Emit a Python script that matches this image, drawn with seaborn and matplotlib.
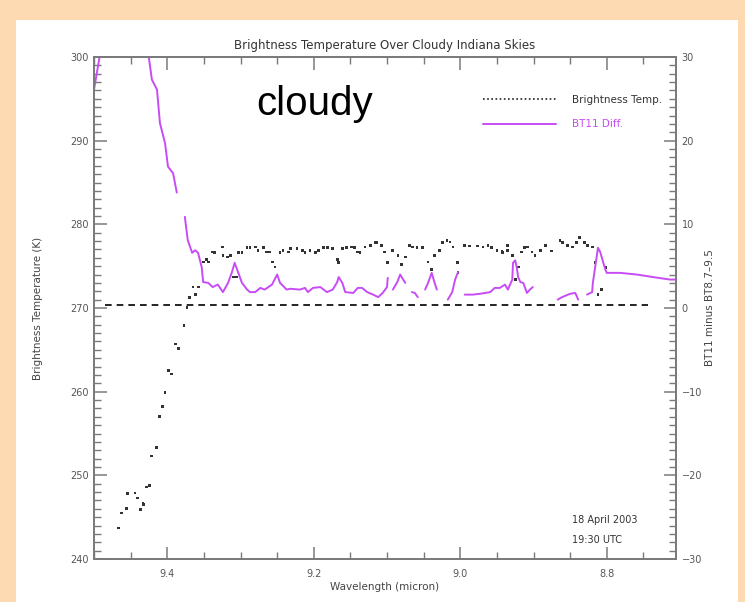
import numpy as np
import pandas as pd
import matplotlib
matplotlib.use("Agg")
import matplotlib.pyplot as plt
from matplotlib.patches import Rectangle
from matplotlib.lines import Line2D
from matplotlib.ticker import MultipleLocator, FixedLocator
import seaborn as sns

nan = np.nan

# ---------------- data ----------------
title = "Brightness Temperature Over Cloudy Indiana Skies"
x_label = "Wavelength (micron)"
y_label_left = "Brightness Temperature (K)"
y_label_right = "BT11 minus BT8.7\u20139.5"
annotation = "cloudy"
date_lines = ["18 April 2003", "19:30 UTC"]
legend_labels = ["Brightness Temp.", "BT11 Diff."]

x_ticks = [9.4, 9.2, 9.0, 8.8]
x_tick_labels = ["9.4", "9.2", "9.0", "8.8"]

# Brightness temperature samples (wavelength in micron, K)
bt_wl = [9.467, 9.462, 9.456, 9.454, 9.444, 9.441, 9.436, 9.433, 9.432, 9.428,
         9.424, 9.421, 9.415, 9.411, 9.407, 9.403, 9.398, 9.394, 9.389, 9.385,
         9.377, 9.373, 9.370, 9.365, 9.361, 9.357, 9.351, 9.346, 9.344, 9.339,
         9.335, 9.325, 9.324, 9.318, 9.314, 9.310, 9.305, 9.303, 9.298, 9.291,
         9.287, 9.280, 9.276, 9.269, 9.264, 9.260, 9.256, 9.253, 9.246, 9.242,
         9.235, 9.232, 9.223, 9.215, 9.212, 9.205, 9.198, 9.194, 9.187, 9.181,
         9.174, 9.168, 9.166, 9.161, 9.155, 9.148, 9.144, 9.140, 9.137, 9.130,
         9.123, 9.116, 9.114, 9.107, 9.103, 9.099, 9.092, 9.085, 9.080, 9.075,
         9.069, 9.065, 9.059, 9.052, 9.044, 9.039, 9.035, 9.028, 9.024, 9.018,
         9.014, 9.010, 9.004, 9.003, 8.994, 8.987, 8.977, 8.969, 8.962, 8.957,
         8.950, 8.943, 8.942, 8.936, 8.935, 8.929, 8.925, 8.921, 8.916, 8.912,
         8.908, 8.902, 8.898, 8.891, 8.884, 8.875, 8.864, 8.860, 8.854, 8.847,
         8.841, 8.837, 8.830, 8.826, 8.820, 8.816, 8.812, 8.807, 8.802]
bt_k = [243.7, 245.5, 246.0, 247.8, 247.9, 247.3, 245.9, 246.7, 246.5, 248.6,
        248.8, 252.3, 253.3, 257.0, 258.2, 259.9, 262.5, 262.1, 265.7, 265.2,
        267.9, 270.1, 271.3, 272.5, 271.6, 272.5, 275.5, 275.8, 275.5, 276.7,
        276.6, 277.3, 276.3, 276.1, 276.3, 273.7, 273.7, 276.6, 276.6, 277.2,
        277.2, 277.3, 276.9, 277.2, 276.7, 276.7, 275.5, 274.9, 276.6, 276.9,
        276.7, 277.1, 277.1, 276.9, 276.6, 276.9, 276.6, 276.9, 277.2, 277.2,
        277.1, 275.8, 275.4, 277.1, 277.2, 277.3, 277.2, 276.7, 276.6, 277.3,
        277.5, 277.8, 277.8, 277.5, 276.7, 275.4, 276.9, 276.3, 275.2, 276.1,
        277.5, 277.3, 277.2, 277.2, 275.5, 274.6, 276.3, 276.9, 277.8, 278.1,
        277.9, 277.3, 275.4, 274.2, 277.5, 277.4, 277.4, 277.3, 277.5, 277.2,
        276.9, 276.8, 276.6, 277.5, 276.9, 276.3, 273.4, 274.9, 276.7, 277.2,
        277.3, 276.7, 276.3, 276.9, 277.5, 276.8, 278.1, 277.8, 277.5, 277.3,
        277.8, 278.4, 277.8, 277.5, 277.3, 275.4, 271.6, 272.2, 274.8]

# BT11 difference (wavelength in micron, K); NaN marks a gap in the trace
diff_wl = [9.500, 9.492, 9.486, nan,
           9.426, 9.421, 9.414, 9.410, 9.403, 9.399, 9.392, 9.387, nan,
           9.376, 9.372, 9.366, 9.362, 9.358, 9.353, 9.351, 9.344, 9.338, 9.331,
           9.324, 9.317, 9.312, 9.308, 9.303, 9.298, 9.291, 9.287, 9.280, 9.273,
           9.267, 9.257, 9.250, 9.246, 9.237, 9.232, 9.219, 9.212, 9.208, 9.201,
           9.191, 9.182, 9.174, 9.168, 9.166, 9.161, 9.157, 9.146, 9.140, 9.134,
           9.127, 9.119, 9.112, 9.106, 9.100, 9.099, nan,
           9.092, 9.086, 9.082, 9.078, 9.075, nan,
           9.066, 9.062, 9.058, nan,
           9.048, 9.044, 9.039, 9.035, 9.032, nan,
           9.017, 9.011, 9.007, 9.003, nan,
           8.994, 8.983, 8.973, 8.959, 8.953, 8.946, 8.939, 8.935, 8.929, 8.928,
           8.925, 8.923, 8.921, 8.918, 8.914, 8.909, 8.905, 8.901, nan,
           8.867, 8.861, 8.850, 8.843, 8.839, nan,
           8.827, 8.820, 8.819, 8.815, 8.812, 8.809, 8.805, 8.802, 8.800, 8.782,
           8.759, 8.737, 8.714, 8.700]
diff_k = [26.1, 30.2, 34.0, nan,
          30.5, 27.3, 26.1, 22.1, 19.7, 16.9, 16.1, 13.8, nan,
          10.9, 8.1, 6.6, 6.9, 6.6, 4.9, 3.1, 3.0, 2.5, 2.8,
          1.9, 3.0, 4.2, 5.4, 4.2, 3.0, 2.2, 1.9, 1.9, 2.4,
          2.2, 2.8, 4.0, 3.0, 2.2, 2.3, 2.2, 2.4, 1.9, 2.4,
          2.5, 1.9, 2.2, 3.1, 3.7, 3.0, 1.9, 1.8, 2.4, 2.4,
          1.9, 1.6, 1.3, 1.8, 2.5, 3.6, nan,
          2.2, 3.1, 4.0, 3.4, 3.0, nan,
          1.9, 1.8, 1.3, nan,
          2.2, 3.0, 4.2, 3.0, 2.2, nan,
          1.0, 1.9, 3.4, 4.3, nan,
          1.6, 1.6, 1.7, 1.9, 2.4, 2.4, 2.8, 2.2, 3.4, 5.4,
          5.7, 4.9, 3.7, 3.1, 3.0, 1.8, 2.2, 2.5, nan,
          1.0, 1.3, 1.7, 1.8, 1.0, nan,
          1.6, 1.9, 3.0, 5.4, 7.2, 6.7, 5.5, 4.6, 4.2, 4.2,
          4.0, 3.7, 3.4, 3.4]

ref_level = 270.4          # dashed reference line (K)
ref_span = [9.485, 8.744]  # its wavelength extent

# ---------------- style ----------------
PEACH = "#fedab3"
MAGENTA = "#c84cf6"
AXIS_GRAY = "#7a7a7a"
TEXT_GRAY = "#555555"

sns.set_style("white")
plt.rcParams["font.family"] = ["DejaVu Sans"]

fig = plt.figure(figsize=(7.45, 6.02), dpi=100, facecolor=PEACH)
fig.patches.append(Rectangle((16 / 745, 0), (738 - 16) / 745, 582 / 602,
                             transform=fig.transFigure, facecolor="white",
                             edgecolor="none", zorder=-10))

ax = fig.add_axes([94 / 745, 43 / 602, 582 / 745, 502 / 602])
ax.set_facecolor("white")

bt_df = pd.DataFrame({"wl": bt_wl, "bt": bt_k})
sns.scatterplot(data=bt_df, x="wl", y="bt", ax=ax, marker="s", s=4,
                color="#333333", edgecolor="none", linewidth=0, legend=False,
                zorder=3)

ax.hlines(ref_level, ref_span[0], ref_span[1], colors="black",
          linestyles=(0, (4, 3)), linewidth=1.2, zorder=2)

ax2 = ax.twinx()
diff_df = pd.DataFrame({"wl": diff_wl, "d": diff_k})
diff_df["seg"] = np.cumsum(diff_df["d"].isna())
diff_df = diff_df.dropna()
sns.lineplot(data=diff_df, x="wl", y="d", units="seg", estimator=None,
             sort=False, color=MAGENTA, linewidth=1.4, ax=ax2, legend=False)

# axes limits and ticks
for a in (ax, ax2):
    a.set_xlim(9.5, 8.7055)
ax.set_ylim(240, 300)
ax2.set_ylim(-30, 30)

ax.xaxis.set_major_locator(FixedLocator(x_ticks))
ax.set_xticklabels(x_tick_labels)
ax.xaxis.set_minor_locator(MultipleLocator(0.05))
ax.yaxis.set_major_locator(MultipleLocator(10))
ax.yaxis.set_minor_locator(MultipleLocator(1))
ax2.yaxis.set_major_locator(MultipleLocator(10))
ax2.yaxis.set_minor_locator(MultipleLocator(1))

ax.tick_params(axis="x", which="both", direction="in", top=True, bottom=True,
               color=AXIS_GRAY, labelcolor=TEXT_GRAY, labelsize=7, pad=7)
ax.tick_params(axis="x", which="major", length=9, width=1.1)
ax.tick_params(axis="x", which="minor", length=5, width=1.0)
ax.tick_params(axis="y", which="both", direction="in", left=True, right=False,
               color=AXIS_GRAY, labelcolor=TEXT_GRAY, labelsize=7, pad=4)
ax.tick_params(axis="y", which="major", length=9, width=1.1)
ax.tick_params(axis="y", which="minor", length=5, width=1.0)
ax2.tick_params(axis="y", which="both", direction="in", right=True, left=False,
                color=AXIS_GRAY, labelcolor=TEXT_GRAY, labelsize=7, pad=4)
ax2.tick_params(axis="y", which="major", length=9, width=1.1)
ax2.tick_params(axis="y", which="minor", length=5, width=1.0)
ax2.tick_params(axis="x", which="both", top=False, bottom=False,
                labeltop=False, labelbottom=False)

for a in (ax, ax2):
    for sp in a.spines.values():
        sp.set_color(AXIS_GRAY)
        sp.set_linewidth(1.3)

ax.set_xlabel(x_label, fontsize=7.5, color="#444444", labelpad=2)
ax.set_ylabel(y_label_left, fontsize=7.5, color="#444444", labelpad=19)
ax2.set_ylabel(y_label_right, fontsize=7.5, color="#444444", labelpad=2,
               rotation=90)
ax.set_title(title, fontsize=8.5, color="#333333", pad=6)

ax.text(0.379, 0.906, annotation, transform=ax.transAxes, ha="center",
        va="center", fontsize=29, color="black",
        family=["Liberation Sans", "DejaVu Sans"])
ax.text(0.821, 0.078, date_lines[0], transform=ax.transAxes, ha="left",
        va="center", fontsize=7, color="#333333")
ax.text(0.821, 0.038, date_lines[1], transform=ax.transAxes, ha="left",
        va="center", fontsize=7, color="#333333")

handles = [Line2D([], [], color="#222222", linestyle=(0, (1, 1.5)), linewidth=1.2),
           Line2D([], [], color=MAGENTA, linewidth=1.4)]
leg = ax2.legend(handles=handles, labels=legend_labels, loc="upper right",
                 bbox_to_anchor=(0.976, 0.925), frameon=False, fontsize=7.5,
                 handlelength=7, handletextpad=1.5, labelspacing=1.4,
                 borderpad=0, borderaxespad=0,
                 labelcolor=["#333333", MAGENTA])

fig.savefig("out.png", dpi=100, facecolor=PEACH)
